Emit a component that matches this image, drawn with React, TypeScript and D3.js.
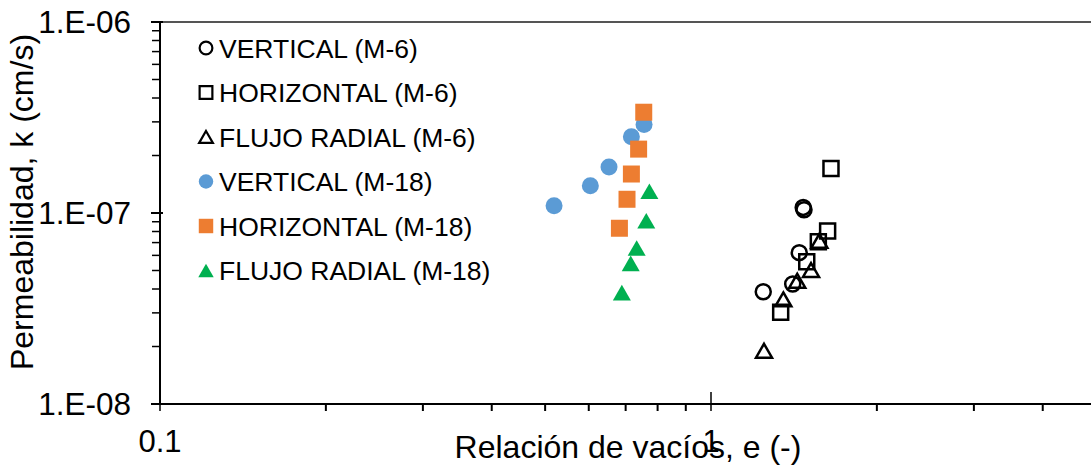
import React, { useEffect, useRef } from "react";
import * as d3 from "d3";

// void ratio e (-) and permeability k (cm/s)
const m6VerticalE = [1.47, 1.475, 1.446, 1.407, 1.244];
const m6VerticalK = [1.07e-7, 1.04e-7, 6.2e-8, 4.25e-8, 3.87e-8];
const m6HorizontalE = [1.651, 1.628, 1.566, 1.492, 1.338];
const m6HorizontalK = [1.71e-7, 8.05e-8, 7.08e-8, 5.56e-8, 3.02e-8];
const m6RadialE = [1.573, 1.519, 1.434, 1.353, 1.248];
const m6RadialK = [7.16e-8, 5.03e-8, 4.42e-8, 3.53e-8, 1.9e-8];
const m18VerticalE = [0.519, 0.604, 0.653, 0.717, 0.756];
const m18VerticalK = [1.09e-7, 1.39e-7, 1.74e-7, 2.51e-7, 2.91e-7];
const m18HorizontalE = [0.755, 0.739, 0.717, 0.704, 0.682];
const m18HorizontalK = [3.37e-7, 2.16e-7, 1.6e-7, 1.18e-7, 8.32e-8];
const m18RadialE = [0.773, 0.763, 0.733, 0.715, 0.689];
const m18RadialK = [1.3e-7, 9.11e-8, 6.56e-8, 5.45e-8, 3.83e-8];

const seriesNames = [
  "VERTICAL (M-6)",
  "HORIZONTAL (M-6)",
  "FLUJO RADIAL (M-6)",
  "VERTICAL (M-18)",
  "HORIZONTAL (M-18)",
  "FLUJO RADIAL (M-18)",
];
const xTicks = [0.1, 1];
const yTicks = [1e-8, 1e-7, 1e-6];

const FONT = "'Liberation Sans', Arial, sans-serif";

export default function App() {
  const ref = useRef<SVGSVGElement>(null);

  useEffect(() => {
    if (!ref.current) return;
    const svg = d3.select(ref.current);
    svg.selectAll("*").remove();

    const W = 1091;
    const x0 = 160;
    const decade = 551;
    const x = d3
      .scaleLog()
      .domain([0.1, 5])
      .range([x0, x0 + decade * Math.log10(50)]);
    const y = d3.scaleLog().domain([1e-8, 1e-6]).range([404, 22]);

    const series = [
      { name: seriesNames[0], e: m6VerticalE, k: m6VerticalK, shape: "circle", fill: "none" },
      { name: seriesNames[1], e: m6HorizontalE, k: m6HorizontalK, shape: "square", fill: "none" },
      { name: seriesNames[2], e: m6RadialE, k: m6RadialK, shape: "triangle", fill: "none" },
      { name: seriesNames[3], e: m18VerticalE, k: m18VerticalK, shape: "circle", fill: "#5B9BD5" },
      { name: seriesNames[4], e: m18HorizontalE, k: m18HorizontalK, shape: "square", fill: "#ED7D31" },
      { name: seriesNames[5], e: m18RadialE, k: m18RadialK, shape: "triangle", fill: "#00B050" },
    ];

    // marker path; open ones a bit smaller so outer edge matches
    const markerPath = (shape: string, open: boolean, scale = 1) => {
      const d = (open ? 15 : 17) * scale;
      if (shape === "circle") return d3.symbol(d3.symbolCircle, Math.PI * (d / 2) ** 2)()!;
      if (shape === "square") return d3.symbol(d3.symbolSquare, d * d)()!;
      return d3.symbol(d3.symbolTriangle, (Math.sqrt(3) / 4) * (d + 1) ** 2)()!;
    };
    const triOffset = (shape: string, open: boolean, scale = 1) =>
      shape === "triangle" ? (((open ? 15 : 17) * scale + 1) * Math.sqrt(3)) / 2 / 6 : 0;

    // top frame line
    svg
      .append("line")
      .attr("x1", x0)
      .attr("x2", W)
      .attr("y1", y(1e-6))
      .attr("y2", y(1e-6))
      .attr("stroke", "#555")
      .attr("stroke-width", 2);

    // x axis
    const xAxis = svg.append("g").attr("transform", `translate(0,${y(1e-8)})`);
    xAxis
      .append("line")
      .attr("x1", x0)
      .attr("x2", W)
      .attr("stroke", "#000")
      .attr("stroke-width", 2);
    const xMinor: number[] = [];
    [0.1, 1].forEach((b) => {
      for (let i = 2; i <= 9; i++) if (b * i <= 5) xMinor.push(b * i);
    });
    xAxis
      .selectAll(".minor")
      .data(xMinor)
      .join("line")
      .attr("x1", (d) => x(d))
      .attr("x2", (d) => x(d))
      .attr("y1", 0)
      .attr("y2", 7)
      .attr("stroke", "#000")
      .attr("stroke-width", 2);
    xAxis
      .selectAll(".major")
      .data(xTicks)
      .join("line")
      .attr("x1", (d) => x(d))
      .attr("x2", (d) => x(d))
      .attr("y1", -12)
      .attr("y2", 7)
      .attr("stroke", "#000")
      .attr("stroke-width", 1.5);
    xAxis
      .selectAll("text")
      .data(xTicks)
      .join("text")
      .attr("x", (d) => x(d))
      .attr("y", 48)
      .attr("text-anchor", "middle")
      .attr("font-family", FONT)
      .attr("font-size", 31)
      .text((d) => String(d));

    // y axis
    const yAxis = svg.append("g").attr("transform", `translate(${x0},0)`);
    yAxis
      .append("line")
      .attr("y1", y(1e-6))
      .attr("y2", y(1e-8))
      .attr("stroke", "#000")
      .attr("stroke-width", 2);
    const yMinor: number[] = [];
    [1e-8, 1e-7].forEach((b) => {
      for (let i = 2; i <= 9; i++) yMinor.push(b * i);
    });
    yAxis
      .selectAll(".minor")
      .data(yMinor)
      .join("line")
      .attr("x1", -8)
      .attr("x2", 0)
      .attr("y1", (d) => y(d))
      .attr("y2", (d) => y(d))
      .attr("stroke", "#000")
      .attr("stroke-width", 1.5);
    yAxis
      .selectAll(".major")
      .data(yTicks)
      .join("line")
      .attr("x1", -9)
      .attr("x2", 3)
      .attr("y1", (d) => y(d))
      .attr("y2", (d) => y(d))
      .attr("stroke", "#000")
      .attr("stroke-width", 2);
    yAxis
      .selectAll("text")
      .data(yTicks)
      .join("text")
      .attr("x", -29)
      .attr("y", (d) => y(d))
      .attr("dy", "0.36em")
      .attr("text-anchor", "end")
      .attr("font-family", FONT)
      .attr("font-size", 31.5)
      .text((d) => `1.E-0${Math.round(-Math.log10(d))}`);

    // axis titles
    svg
      .append("text")
      .attr("x", 628)
      .attr("y", 458)
      .attr("text-anchor", "middle")
      .attr("font-family", FONT)
      .attr("font-size", 32)
      .text("Relación de vacíos, e (-)");
    svg
      .append("text")
      .attr("transform", `translate(33,202) rotate(-90)`)
      .attr("text-anchor", "middle")
      .attr("font-family", FONT)
      .attr("font-size", 32)
      .text("Permeabilidad, k (cm/s)");

    // points
    series.forEach((s) => {
      const open = s.fill === "none";
      svg
        .append("g")
        .selectAll("path")
        .data(s.e.map((e, i) => ({ e, k: s.k[i] })))
        .join("path")
        .attr("d", markerPath(s.shape, open))
        .attr(
          "transform",
          (d) => `translate(${x(d.e)},${y(d.k) + triOffset(s.shape, open)})`
        )
        .attr("fill", open ? "none" : s.fill)
        .attr("stroke", open ? "#000" : "none")
        .attr("stroke-width", 2.5);
    });

    // legend
    const legend = svg
      .append("g")
      .selectAll("g")
      .data(series)
      .join("g")
      .attr("transform", (_d, i) => `translate(206,${48 + i * 44.5})`);
    legend
      .append("path")
      .attr("d", (d) => markerPath(d.shape, d.fill === "none", 0.85))
      .attr("transform", (d) => `translate(0,${triOffset(d.shape, d.fill === "none", 0.85)})`)
      .attr("fill", (d) => (d.fill === "none" ? "none" : d.fill))
      .attr("stroke", (d) => (d.fill === "none" ? "#000" : "none"))
      .attr("stroke-width", 2.2);
    legend
      .append("text")
      .attr("x", 13)
      .attr("dy", "0.36em")
      .attr("font-family", FONT)
      .attr("font-size", 26.5)
      .text((d) => d.name);
  }, []);

  return (
    <svg
      ref={ref}
      width={1091}
      height={470}
      style={{ position: "absolute", left: 0, top: 0, background: "#fff" }}
    />
  );
}
